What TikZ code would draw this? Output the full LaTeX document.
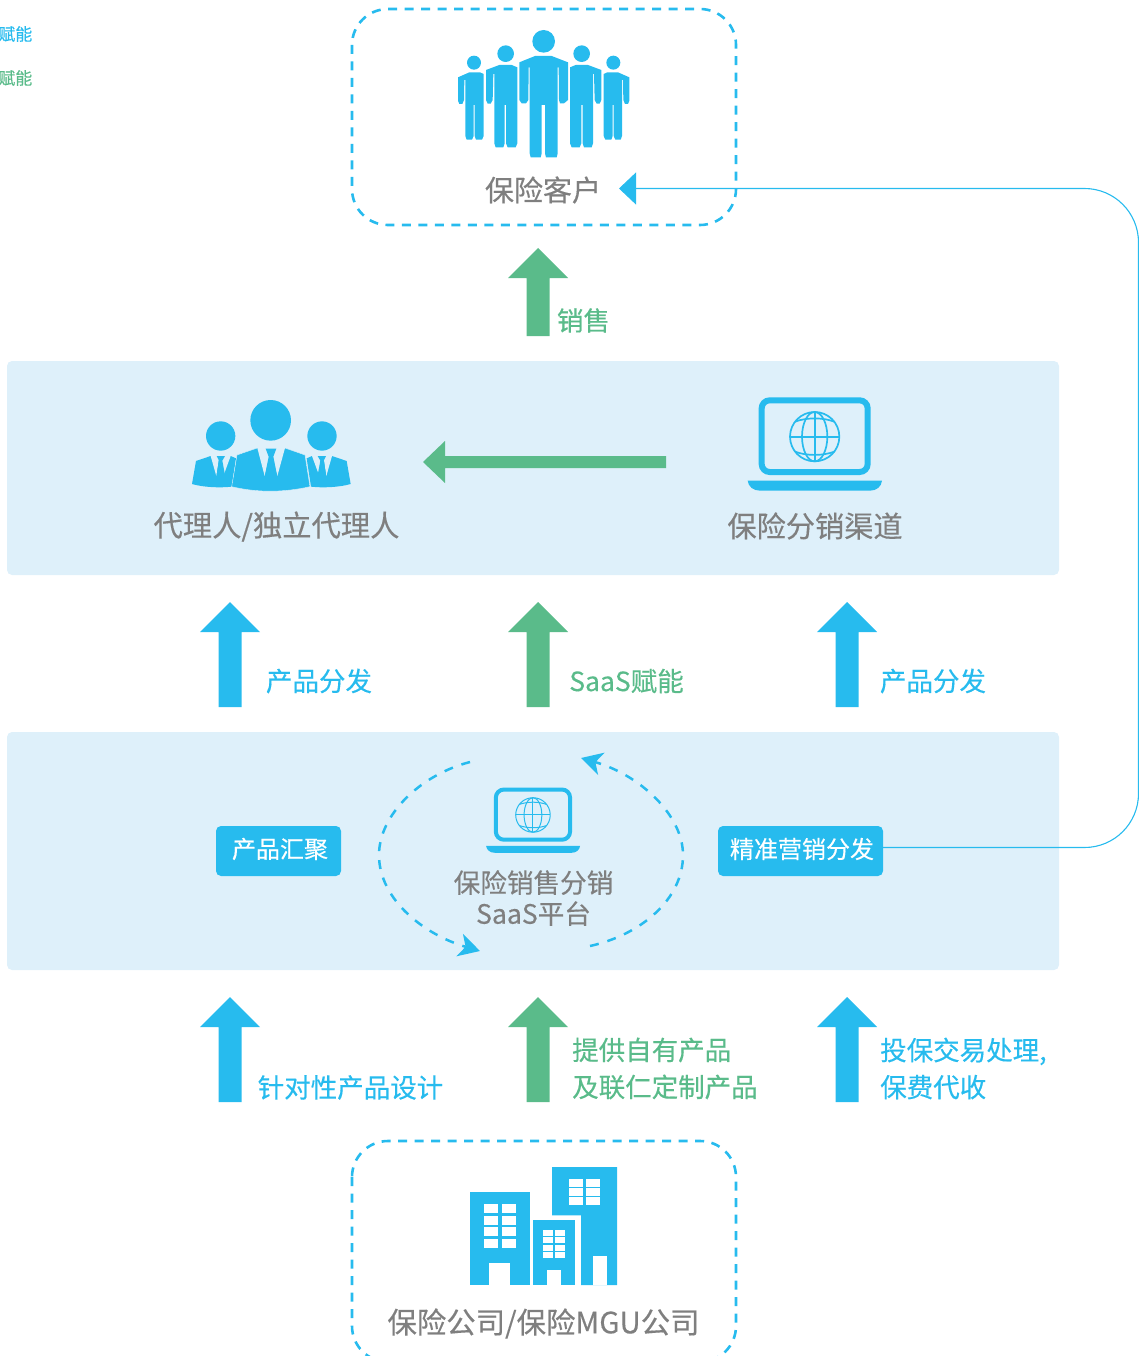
\documentclass[tikz,border=0pt]{standalone}
\usepackage{fontspec}
\setmainfont{Noto Sans CJK SC}[RawFeature={embolden=0.35}]
\usetikzlibrary{arrows.meta}
\definecolor{cblue}{HTML}{27BBEE}
\definecolor{cgreen}{HTML}{5ABB8A}
\definecolor{cpanel}{HTML}{DEF0FA}
\definecolor{cgray}{HTML}{7F7F7F}
\tikzset{
  panel/.style={fill=cpanel,rounded corners=5pt},
  dashbox/.style={draw=cblue,line width=2.6pt,dash pattern=on 9pt off 7.5pt,rounded corners=36pt},
  cyclearc/.style={draw=cblue,line width=2.5pt,dash pattern=on 9pt off 9pt},
  cycletip/.style={-{Stealth[length=21pt,width=23pt,inset=6pt]}},
  graylabel/.style={inner sep=0pt,text=cgray,align=center},
  bluelabel/.style={inner sep=0pt,text=cblue,align=left},
  greenlabel/.style={inner sep=0pt,text=cgreen,align=left},
  tagbox/.style={inner sep=0pt,fill=cblue,rounded corners=5pt,minimum height=50pt},
  tagtext/.style={inner sep=0pt,text=white,font=\fontsize{24}{28}\selectfont,xshift=1.5pt,yshift=2pt},
}
\newcommand{\bigup}[4]{% centre x, top y, bottom y, colour
  \fill[#4] (#1-11.5,#2+30) -- (#1-30,#2+30) -- (#1,#2) -- (#1+30,#2+30) -- (#1+11.5,#2+30) -- (#1+11.5,#3) -- (#1-11.5,#3) -- cycle;}
\newcommand{\laptopicon}[3]{% #1 scope options, #2 frame width, #3 globe line width
  \begin{scope}[#1]
    \draw[cblue,line width=#2,rounded corners=8pt] (125,61) rectangle (443,276);
    \fill[cblue] (83,302) -- (486,302) .. controls (484,320) and (470,332) .. (450,332) -- (120,332) .. controls (100,332) and (85,320) .. (83,302) -- cycle;
    \draw[cblue,line width=#3] (284,170) circle [radius=74];
    \draw[cblue,line width=#3] (284,170) ellipse [x radius=38,y radius=74];
    \draw[cblue,line width=#3] (284,96) -- (284,244) (210,170) -- (358,170);
    \draw[cblue,line width=#3] (225,125) .. controls (260,112) and (308,112) .. (343,125);
    \draw[cblue,line width=#3] (225,215) .. controls (260,228) and (308,228) .. (343,215);
  \end{scope}}
\newcommand{\sideman}{%
  \fill[cblue] (152,168) circle [radius=44];
  \fill[cblue] (66,312) -- (78,243) -- (122,228) -- (182,228) -- (198,235) -- (185,320) .. controls (150,324) and (100,322) .. (66,312) -- cycle;
  \fill[cpanel] (122,228) -- (182,228) -- (160,288) -- (153,240) -- (146,240) -- (139,288) -- cycle;
  \fill[cblue] (140,228) -- (165,228) -- (157,242) -- (165,285) -- (152,295) -- (140,285) -- (147,242) -- cycle;}
\newcommand{\personA}{%
  \fill[cblue] (402,188) circle [radius=21];
  \fill[cblue] (354,232) -- (388,217) -- (420,217) -- (431,222) -- (431,408) -- (426,419) -- (408,419) -- (404,408) -- (404,315) -- (401,315) -- (401,408) -- (396,419) -- (380,419) -- (376,408) -- (376,240) -- (373,240) -- (372,300) -- (367,312) -- (358,312) -- (354,302) -- cycle;}
\newcommand{\personB}{%
  \fill[cblue] (497,161) circle [radius=25];
  \fill[cblue] (438,210) -- (478,195) -- (515,195) -- (532,202) -- (532,430) -- (527,442) -- (503,442) -- (498,430) -- (498,315) -- (494,315) -- (494,430) -- (490,442) -- (467,442) -- (463,430) -- (463,222) -- (460,222) -- (458,300) -- (452,311) -- (443,311) -- (438,300) -- cycle;}
\begin{document}
\begin{tikzpicture}[x=1pt,y=-1pt]
\useasboundingbox (0,0) rectangle (1139,1356);
\clip (0,0) rectangle (1139,1356);
% panels
\fill[panel] (7,361) rectangle (1059,575);
\fill[panel] (7,732) rectangle (1059,970);
% dashed boxes
\draw[dashbox] (352,9) rectangle (736,225);
\draw[dashbox] (352,1141) rectangle (736,1362);
% legend
\node[bluelabel,anchor=east,font=\fontsize{17}{20}\selectfont] (legA) at (32.5,34) {赋能};
\node[greenlabel,anchor=east,font=\fontsize{17}{20}\selectfont] (legB) at (32.5,78) {赋能};
% customers icon
\begin{scope}[shift={(340,0)},scale=1/3]
  \personA \personB
  \begin{scope}[shift={(1222,0)},xscale=-1]\personA \personB\end{scope}
  \fill[cblue] (611,124) circle [radius=34];
  \fill[cblue] (538,187) -- (585,168) -- (635,168) -- (684,187) -- (684,300) -- (672,310) -- (660,310) -- (657,300) -- (656,202) -- (653,202) -- (653,460) -- (650,472) -- (618,472) -- (615,460) -- (615,315) -- (605,315) -- (605,460) -- (602,472) -- (572,472) -- (569,460) -- (569,202) -- (566,202) -- (565,300) -- (558,310) -- (545,310) -- (538,300) -- cycle;
\end{scope}
\node[graylabel,font=\fontsize{29}{34}\selectfont] (cust) at (543,190) {保险客户};
% top arrow
\bigup{538}{248}{336}{cgreen}
\node[greenlabel,font=\fontsize{26.5}{30}\selectfont] (sale) at (583.5,320.5) {销售};
% agents icon
\begin{scope}[shift={(170,380)},scale=1/3]
  \sideman
  \begin{scope}[shift={(608,0)},xscale=-1]\sideman\end{scope}
  \fill[cblue] (302,121) circle [radius=61];
  \draw[cpanel,line width=.4pt,fill=cblue] (185,320) -- (201,225) -- (262,204) -- (345,204) -- (405,225) -- (420,320) .. controls (340,338) and (260,338) .. (185,320) -- cycle;
  \fill[cpanel] (262,204) -- (345,204) -- (322,288) -- (306,230) -- (298,230) -- (284,288) -- cycle;
  \fill[cblue] (287,206) -- (319,206) -- (310,230) -- (321,285) -- (303,305) -- (285,285) -- (296,230) -- cycle;
\end{scope}
\node[graylabel,font=\fontsize{29.3}{34}\selectfont] (agent) at (276.5,526.5) {代理人/独立代理人};
% left arrow
\coordinate (chanL) at (666,462);
\coordinate (agentR) at (423,462);
\fill[cgreen] (chanL) ++(0,-6) -- (445,456) -- (445,441) -- (agentR) -- (445,483) -- (445,468) -- (666,468) -- cycle;
% channel laptop
\laptopicon{shift={(720,380)},scale=1/3}{6pt}{1.7pt}
\node[graylabel,font=\fontsize{29.2}{34}\selectfont] (chan) at (815,526) {保险分销渠道};
% middle arrows
\bigup{230}{602}{707}{cblue}
\bigup{538}{602}{707}{cgreen}
\bigup{847}{602}{707}{cblue}
\node[bluelabel,font=\fontsize{26.5}{30}\selectfont] (dA) at (319,681) {产品分发};
\node[greenlabel,font=\fontsize{26.5}{30}\selectfont] (saas) at (626.5,681) {SaaS赋能};
\node[bluelabel,font=\fontsize{26.5}{30}\selectfont] (dB) at (933,681) {产品分发};
% platform row
\node[tagbox,minimum width=125pt,label={[tagtext]center:产品汇聚}] (gather) at (278.5,851) {};
\node[tagbox,minimum width=165pt,label={[tagtext]center:精准营销分发}] (precise) at (800.5,851) {};
\laptopicon{shift={(466.7,775.3)},scale=.2333}{4pt}{1pt}
\node[graylabel,font=\fontsize{26.6}{31}\selectfont] (plat) at (533.5,898) {保险销售分销\\SaaS平台};
% cycle arrows
\coordinate (cA) at (470,762);
\coordinate (cB) at (480,951);
\coordinate (cC) at (590,946);
\coordinate (cD) at (581,758);
\draw[cyclearc,cycletip] (cA) .. controls (420,775) and (379,815) .. (379,855) .. controls (379,900) and (425,935) .. (cB);
\draw[cyclearc,cycletip] (cC) .. controls (640,935) and (683,900) .. (683,855) .. controls (683,815) and (640,775) .. (cD);
% feedback connector
\coordinate (custR) at (619,188.5);
\coordinate (preciseOut) at (883,847.5);
\draw[cblue,line width=1.1pt,rounded corners=54pt,-{Triangle[length=17pt,width=32pt]}] (preciseOut) -- (1138.5,847.5) -- (1138.5,188.5) -- (custR);
% lower arrows
\bigup{230}{997}{1102}{cblue}
\bigup{538}{997}{1102}{cgreen}
\bigup{847}{997}{1102}{cblue}
\node[bluelabel,font=\fontsize{26.5}{30}\selectfont] (design) at (350.5,1087.5) {针对性产品设计};
\node[greenlabel,anchor=west,font=\fontsize{26.5}{37}\selectfont] (supply) at (572,1068.5) {提供自有产品\\及联仁定制产品};
\node[bluelabel,anchor=west,font=\fontsize{26.5}{37}\selectfont] (process) at (880,1068.5) {投保交易处理,\\保费代收};
% buildings
\begin{scope}[shift={(450,1150)},scale=1/3]
  \fill[cblue] (60,126) rectangle (240,405);
  \fill[cblue] (249,210) rectangle (375,405);
  \fill[cblue] (306,51) -- (501,51) -- (501,405) -- (393,405) -- (393,196) -- (306,196) -- cycle;
  \foreach \r/\s in {162/189,198/225,231/258,267/294}{
    \fill[white] (102,\r) rectangle (144,\s);
    \fill[white] (156,\r) rectangle (198,\s);}
  \fill[white] (117,339) rectangle (180,405);
  \foreach \r/\s in {240/258,261/279,285/303,306/324}{
    \fill[white] (279,\r) rectangle (309,\s);
    \fill[white] (315,\r) rectangle (345,\s);}
  \fill[white] (291,360) rectangle (333,405);
  \foreach \r/\s in {87/111,114/138,141/165}{
    \fill[white] (357,\r) rectangle (399,\s);
    \fill[white] (408,\r) rectangle (450,\s);}
  \fill[white] (429,318) rectangle (471,405);
\end{scope}
\node[graylabel,font=\fontsize{29.4}{34}\selectfont] (ins) at (543.5,1323.5) {保险公司/保险MGU公司};
\end{tikzpicture}
\end{document}
